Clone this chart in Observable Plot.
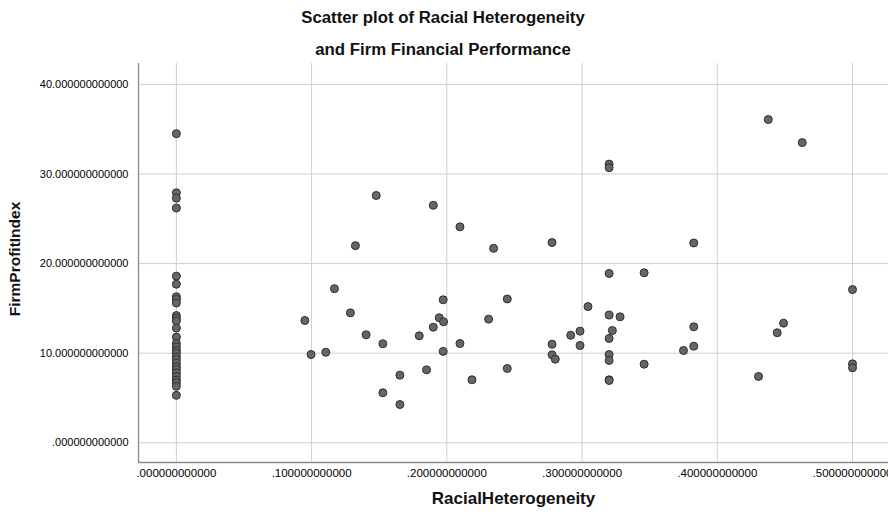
<!DOCTYPE html>
<html>
<head>
<meta charset="utf-8">
<script src="https://cdn.jsdelivr.net/npm/d3@7"></script>
<script src="https://cdn.jsdelivr.net/npm/@observablehq/plot@0.6"></script>
<style>
  html, body { margin: 0; padding: 0; background: #fff; width: 888px; height: 516px; overflow: hidden; }
  #title { height: 60px; padding-top: 2px; box-sizing: border-box; text-align: center; font-family: "Liberation Sans", Arial, sans-serif; font-weight: bold; font-size: 16.8px; line-height: 32px; color: #111; padding-right: 2px; }
  #chart svg { display: block; }
</style>
</head>
<body>
<div id="title"></div>
<div id="chart"></div>
<script>
const titleLines = ["Scatter plot of Racial Heterogeneity", "and Firm Financial Performance"];
const xLabel = "RacialHeterogeneity";
const yLabel = "FirmProfitIndex";

const xTicks = [0, 0.1, 0.2, 0.3, 0.4, 0.5];
const xTickLabels = [".000000000000", ".100000000000", ".200000000000", ".300000000000", ".400000000000", ".500000000000"];
const yTicks = [0, 10, 20, 30, 40];
const yTickLabels = [".000000000000", "10.000000000000", "20.000000000000", "30.000000000000", "40.000000000000"];

// Firms with zero racial heterogeneity
const zeroProfit = [34.5, 27.9, 27.3, 26.2, 18.6, 17.7, 16.3, 16.0, 15.6, 14.2, 13.9, 13.6, 12.8, 11.8, 11.1, 10.7, 10.3, 10.0, 9.6, 9.3, 8.9, 8.5, 8.2, 7.8, 7.4, 7.0, 6.7, 6.3, 5.3];

// Firms with non-zero racial heterogeneity
const heterogeneity = [0.095, 0.0996, 0.1105, 0.1169, 0.1287, 0.1324, 0.1403, 0.1478, 0.1527, 0.1527,
  0.1653, 0.1653, 0.1796, 0.185, 0.190, 0.190, 0.1944, 0.1973, 0.1976, 0.1973,
  0.2097, 0.2097, 0.2186, 0.2309, 0.2346, 0.2447, 0.2447, 0.2778, 0.2778, 0.2778,
  0.2802, 0.2916, 0.2985, 0.2985, 0.3044, 0.320, 0.320, 0.320, 0.320, 0.320,
  0.320, 0.320, 0.320, 0.320, 0.3224, 0.3281, 0.3459, 0.3459, 0.375, 0.3826,
  0.3826, 0.3826, 0.4305, 0.4377, 0.4443, 0.449, 0.4628, 0.5, 0.5, 0.5];
const profitIndex = [13.65, 9.85, 10.1, 17.2, 14.5, 22.0, 12.05, 27.6, 11.05, 5.58,
  7.55, 4.27, 11.94, 8.14, 26.5, 12.9, 13.95, 15.96, 13.5, 10.2,
  24.1, 11.08, 7.03, 13.8, 21.7, 16.05, 8.29, 22.35, 11.0, 9.82,
  9.33, 12.0, 12.46, 10.86, 15.2, 31.1, 30.7, 18.9, 14.25, 11.64,
  9.85, 9.19, 7.03, 6.95, 12.53, 14.06, 18.97, 8.77, 10.3, 22.3,
  12.94, 10.78, 7.4, 36.08, 12.28, 13.35, 33.5, 17.1, 8.81, 8.37];

document.getElementById("title").innerHTML = titleLines.join("<br>");

const data = [
  ...zeroProfit.map(y => ({x: 0, y})),
  ...heterogeneity.map((x, i) => ({x, y: profitIndex[i]}))
];

const xDomain = [-0.028, 0.5266];
const yDomain = [-2.2, 42.33];
const font = "'Liberation Sans', Arial, sans-serif";

const plot = Plot.plot({
  width: 888,
  height: 456,
  marginTop: 3,
  marginBottom: 54,
  marginLeft: 138,
  marginRight: 0,
  style: {fontFamily: font, background: "#fff", overflow: "visible", color: "#000"},
  x: {domain: xDomain},
  y: {domain: yDomain},
  marks: [
    Plot.gridX(xTicks, {stroke: "#cfcfcf", strokeOpacity: 1, strokeWidth: 1}),
    Plot.gridY(yTicks, {stroke: "#cfcfcf", strokeOpacity: 1, strokeWidth: 1}),
    Plot.ruleX([xDomain[0]], {stroke: "#8a8a8a", strokeWidth: 1.3}),
    Plot.ruleY([yDomain[0]], {stroke: "#8a8a8a", strokeWidth: 1.3}),
    Plot.axisX({ticks: xTicks, tickFormat: (d) => xTickLabels[xTicks.indexOf(d)], tickSize: 0, tickPadding: 6, fontSize: 11.5, fill: "#000", label: null}),
    Plot.axisY({ticks: yTicks, tickFormat: (d) => yTickLabels[yTicks.indexOf(d)], tickSize: 0, tickPadding: 10, fontSize: 11, fill: "#000", label: null}),
    Plot.text([xLabel], {frameAnchor: "bottom", lineAnchor: "middle", textAnchor: "middle", dy: 36, fontSize: 17, fontWeight: "bold", fill: "#111", text: d => d}),
    Plot.text([yLabel], {frameAnchor: "left", textAnchor: "middle", lineAnchor: "middle", dx: -123, dy: -4, rotate: -90, fontSize: 15.5, fontWeight: "bold", fill: "#111", text: d => d}),
    Plot.dot(data, {x: "x", y: "y", r: 4, fill: "#666666", fillOpacity: 1, stroke: "#2e2e2e", strokeWidth: 1})
  ]
});
document.getElementById("chart").appendChild(plot);
</script>
</body>
</html>
